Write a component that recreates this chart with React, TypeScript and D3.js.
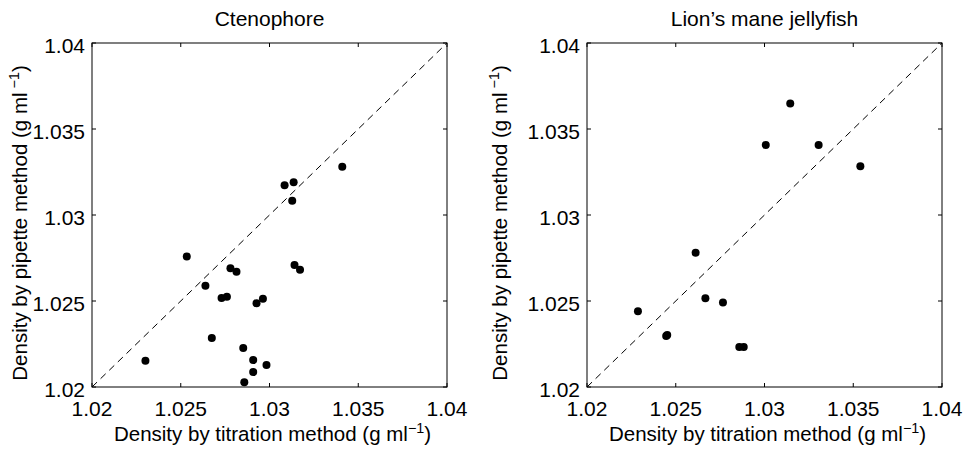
import * as d3 from 'd3';

const DOMAIN: [number, number] = [1.02, 1.04];
const TICKS = [1.02, 1.025, 1.03, 1.035, 1.04];
const TICK_LABELS = ['1.02', '1.025', '1.03', '1.035', '1.04'];

// [titration, pipette]
const ctenophore: [number, number][] = [
  [1.0341, 1.0328],
  [1.03085, 1.03173],
  [1.03136, 1.0319],
  [1.03128, 1.03083],
  [1.02534, 1.02758],
  [1.0278, 1.0269],
  [1.02814, 1.0267],
  [1.03141, 1.02709],
  [1.03172, 1.02682],
  [1.02639, 1.02589],
  [1.0273, 1.02517],
  [1.0276, 1.02525],
  [1.02927, 1.02487],
  [1.02963, 1.02513],
  [1.02675, 1.02285],
  [1.02852, 1.02227],
  [1.02301, 1.02153],
  [1.02908, 1.02157],
  [1.02983, 1.02128],
  [1.02908, 1.02087],
  [1.02858, 1.02027],
];

const lionsMane: [number, number][] = [
  [1.03145, 1.03648],
  [1.03007, 1.03407],
  [1.03305, 1.03407],
  [1.0354, 1.03283],
  [1.02612, 1.02781],
  [1.02667, 1.02516],
  [1.02766, 1.02491],
  [1.02287, 1.0244],
  [1.02446, 1.02297],
  [1.02452, 1.02302],
  [1.02858, 1.02232],
  [1.02883, 1.02232],
];

const FONT = '"Liberation Sans", Arial, Helvetica, sans-serif';
const FS = 21;
const LFS = 20.5;

type PanelProps = { title: string; data: [number, number][]; left: number; labelX: number };

const Panel = ({ title, data, left, labelX }: PanelProps) => {
  const top = 43;
  const w = 355;
  const h = 344;
  const x = d3.scaleLinear().domain(DOMAIN).range([left, left + w]);
  const y = d3.scaleLinear().domain(DOMAIN).range([top + h, top]);
  const tl = 4;
  const line = d3.line<number>().x(d => x(d)).y(d => y(d));

  return (
    <g fontFamily={FONT} fill="#000">
      <text x={left + w / 2} y={26} textAnchor="middle" fontSize={FS}>{title}</text>
      <rect x={left} y={top} width={w} height={h} fill="none" stroke="#000" strokeWidth={1} />
      {TICKS.map((t, i) => (
        <g key={'t' + i}>
          <line x1={x(t)} x2={x(t)} y1={top + h} y2={top + h - tl} stroke="#000" />
          <line x1={x(t)} x2={x(t)} y1={top} y2={top + tl} stroke="#000" />
          <line x1={left} x2={left + tl} y1={y(t)} y2={y(t)} stroke="#000" />
          <line x1={left + w} x2={left + w - tl} y1={y(t)} y2={y(t)} stroke="#000" />
          <text x={x(t)} y={top + h + 29} textAnchor="middle" fontSize={FS}>{TICK_LABELS[i]}</text>
          <text x={left - 7} y={y(t) + 10} textAnchor="end" fontSize={FS}>{TICK_LABELS[i]}</text>
        </g>
      ))}
      <path d={line(DOMAIN) ?? ''} stroke="#000" strokeWidth={1} strokeDasharray="7,5" fill="none" />
      {data.map((d, i) => (
        <circle key={i} cx={x(d[0])} cy={y(d[1])} r={4} fill="#000" />
      ))}
      <text x={left + w / 2 + 3} y={441} textAnchor="middle" fontSize={LFS}>
        Density by titration method (g ml
        <tspan fontSize={LFS * 0.7} dy={-8}>−1</tspan>
        <tspan dy={8}>)</tspan>
      </text>
      <text
        transform={`translate(${labelX},${top + h / 2 + 8}) rotate(-90)`}
        textAnchor="middle"
        fontSize={LFS}
      >
        Density by pipette method (g ml
        <tspan fontSize={LFS * 0.7} dy={-8}> −1</tspan>
        <tspan dy={8}>)</tspan>
      </text>
    </g>
  );
};

export default function App() {
  return (
    <svg width={966} height={451} style={{ position: 'absolute', left: 0, top: 0, background: '#fff' }}>
      <rect width={966} height={451} fill="#fff" />
      <Panel title="Ctenophore" data={ctenophore} left={92} labelX={27} />
      <Panel title="Lion’s mane jellyfish" data={lionsMane} left={587} labelX={507} />
    </svg>
  );
}
